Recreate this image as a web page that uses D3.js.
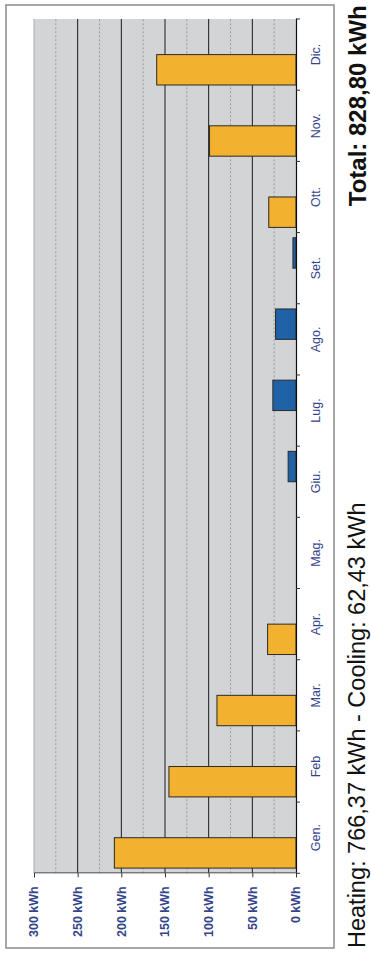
<!DOCTYPE html>
<html>
<head>
<meta charset="utf-8">
<script src="https://cdn.jsdelivr.net/npm/d3@7"></script>
<style>
  html, body { margin: 0; padding: 0; background: #fff; }
  svg { display: block; }
</style>
</head>
<body>
<svg id="chart" width="371" height="953"></svg>
<script>
// ---- data ----
const categories = ["Gen.", "Feb", "Mar.", "Apr.", "Mag.", "Giu.", "Lug.", "Ago.", "Set.", "Ott.", "Nov.", "Dic."];
const heating = [208, 145.5, 90.5, 32.5, 0, 0, 0, 0, 0, 31.2, 99, 159.5];
const cooling = [0, 0, 0, 0, 0, 9, 26.5, 23.4, 3.5, 0, 0, 0];
const series = ["heating", "cooling"];
const valueTicks = [0, 50, 100, 150, 200, 250, 300];
const minorTicks = [25, 75, 125, 175, 225, 275];
const footerText = "Heating: 766,37 kWh - Cooling: 62,43 kWh";
const totalText = "Total: 828,80 kWh";

// ---- layout (chart drawn upright, then rotated -90deg) ----
const W = 854.3, H = 262;
const svg = d3.select("#chart");
const g = svg.append("g").attr("transform", "translate(34,873.3) rotate(-90)");

const x = d3.scaleBand().domain(categories).range([0, W]).padding(0);
const xs = d3.scaleBand().domain(series).range([5.2, x.bandwidth() - 5.2]).padding(0);
const y = d3.scaleLinear().domain([0, 300]).range([H, 0]);

// outer frame
g.append("rect")
  .attr("x", -74.7).attr("y", -28)
  .attr("width", 868.3 + 74.7).attr("height", 328)
  .attr("fill", "none").attr("stroke", "#8a8a8a").attr("stroke-width", 1.5);

// plot background
g.append("rect").attr("x", 0).attr("y", 0).attr("width", W).attr("height", H)
  .attr("fill", "#d3d4d6");

// minor dashed grid
g.selectAll(".minor").data(minorTicks).join("line")
  .attr("x1", 0).attr("x2", W)
  .attr("y1", d => y(d)).attr("y2", d => y(d))
  .attr("stroke", "#9a9a9a").attr("stroke-width", 1).attr("stroke-dasharray", "2,2");

// major solid grid
g.selectAll(".major").data(valueTicks.filter(d => d > 0 && d < 300)).join("line")
  .attr("x1", 0).attr("x2", W)
  .attr("y1", d => y(d)).attr("y2", d => y(d))
  .attr("stroke", "#1a1a1a").attr("stroke-width", 1);

// top edge
g.append("line").attr("x1", 0).attr("x2", W).attr("y1", y(300)).attr("y2", y(300))
  .attr("stroke", "#a9a9a9").attr("stroke-width", 1);

// bars
const rows = categories.map((c, i) => ({ c, heating: heating[i], cooling: cooling[i] }));
const colors = { heating: "#f2b12e", cooling: "#1f62a6" };
rows.forEach(r => {
  series.forEach(s => {
    if (r[s] > 0) {
      g.append("rect")
        .attr("x", x(r.c) + xs(s))
        .attr("y", y(r[s]))
        .attr("width", xs.bandwidth())
        .attr("height", y(0) - y(r[s]))
        .attr("fill", colors[s])
        .attr("stroke", "#2a2a2a").attr("stroke-width", 1);
    }
  });
});

// value axis (appears at bottom after rotation)
const yAxis = g.append("g")
  .call(d3.axisLeft(y).tickValues(valueTicks).tickSize(4).tickPadding(9).tickFormat(d => d + " kWh"));
yAxis.select(".domain").attr("stroke", "#555").attr("stroke-width", 1);
yAxis.selectAll(".tick line").attr("stroke", "#333");
yAxis.selectAll(".tick text")
  .attr("fill", "#34448a").attr("font-family", "Liberation Sans, Arial, sans-serif")
  .attr("font-size", 12.5).attr("font-weight", "bold").attr("dy", "0.3em");

// category axis (appears at right after rotation)
const xAxis = g.append("g").attr("transform", `translate(0,${H})`)
  .call(d3.axisBottom(x).tickSize(0).tickPadding(0));
xAxis.select(".domain").attr("stroke", "#111").attr("stroke-width", 1.2);
xAxis.selectAll(".tick text")
  .attr("y", 24).attr("dy", 0)
  .attr("fill", "#34448a").attr("font-family", "Liberation Sans, Arial, sans-serif")
  .attr("font-size", 12.5);
const boundaries = categories.map(c => x(c)).concat([x.range()[1]]);
xAxis.selectAll(".btick").data(boundaries).join("line")
  .attr("x1", d => d).attr("x2", d => d).attr("y1", 0).attr("y2", 4)
  .attr("stroke", "#333").attr("stroke-width", 1);

// footer texts
g.append("text")
  .attr("x", -74.7).attr("y", 331)
  .attr("font-family", "Liberation Sans, Arial, sans-serif").attr("font-size", 23.5)
  .attr("fill", "#111").text(footerText);
g.append("text")
  .attr("x", 868).attr("y", 332).attr("text-anchor", "end")
  .attr("font-family", "Liberation Sans, Arial, sans-serif").attr("font-size", 24)
  .attr("font-weight", "bold").attr("fill", "#111").text(totalText);
</script>
</body>
</html>
